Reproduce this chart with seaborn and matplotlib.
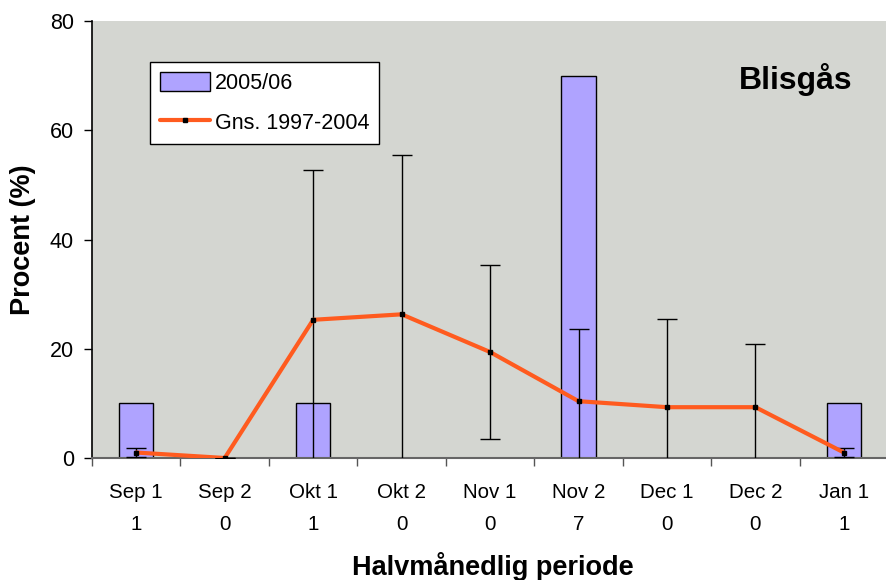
import matplotlib
matplotlib.use("Agg")
import matplotlib.pyplot as plt
import seaborn as sns
import pandas as pd
import numpy as np
from matplotlib.lines import Line2D
from matplotlib.patches import Patch

periods = ["Sep 1", "Sep 2", "Okt 1", "Okt 2", "Nov 1", "Nov 2", "Dec 1", "Dec 2", "Jan 1"]
counts = [1, 0, 1, 0, 0, 7, 0, 0, 1]
pct_2005 = [10, 0, 10, 0, 0, 70, 0, 0, 10]
mean_9704 = [1.0, 0.0, 25.3, 26.3, 19.4, 10.4, 9.3, 9.3, 1.0]
sd_9704 = [0.9, 0.0, 27.4, 29.2, 15.9, 13.2, 16.2, 11.6, 0.9]

sns.set_theme(style="white")
plt.rcParams['font.family'] = ['Liberation Sans', 'DejaVu Sans']
plt.rcParams.update({'text.color': 'black', 'axes.labelcolor': 'black',
                     'xtick.color': 'black', 'ytick.color': 'black'})

df = pd.DataFrame({"periode": periods, "pct": pct_2005, "mean": mean_9704,
                   "sd": sd_9704, "pos": np.arange(len(periods))})

fig = plt.figure(figsize=(8.87, 5.80), dpi=100)
ax = fig.add_axes([92/887, 122/580, 805/887, 437/580])
ax.set_facecolor('#D4D6D1')

bar_color = '#AFA3FF'
line_color = '#FF5B1F'

sns.barplot(data=df, x="periode", y="pct", color=bar_color, width=0.39,
            edgecolor='black', linewidth=1.0, saturation=1, ax=ax, zorder=2)

ax.errorbar(df["pos"], df["mean"], yerr=df["sd"], fmt='none', ecolor='black',
            elinewidth=1.0, capsize=7, capthick=1.0, zorder=3)

sns.lineplot(data=df, x="pos", y="mean", color=line_color, linewidth=3.0,
             sort=False, ax=ax, zorder=4)
ax.plot(df["pos"], df["mean"], linestyle='none', marker='s', markersize=3.5,
        color='black', zorder=5)

ax.set_xlim(-0.5, 8.6)
ax.set_ylim(0, 80)
ax.set_yticks([0, 20, 40, 60, 80])
ax.tick_params(axis='y', labelsize=15.5, length=6, width=1, color='black', pad=7,
               left=True, direction='out', labelcolor='black')

# x: major ticks at category boundaries, labels at minor positions
ax.set_xticks(np.arange(-0.5, 9.0, 1.0))
ax.set_xticklabels([])
ax.set_xticks(df["pos"], minor=True)
ax.set_xticklabels([f"{p}\n{c}" for p, c in zip(periods, counts)], minor=True)
ax.tick_params(axis='x', which='major', length=6, width=1, color='#555555',
               bottom=True, direction='out')
ax.tick_params(axis='x', which='minor', length=0, labelsize=14.8, pad=18,
               labelcolor='black')
for lab in ax.get_xticklabels(minor=True):
    lab.set_linespacing(1.85)

for s in ['top', 'right']:
    ax.spines[s].set_visible(False)
ax.spines['left'].set_color('black')
ax.spines['left'].set_linewidth(1.2)
ax.spines['bottom'].set_color('#666666')
ax.spines['bottom'].set_linewidth(1.5)

ax.set_xlabel("Halvmånedlig periode", fontsize=19.5, fontweight='bold')
ax.set_ylabel("Procent (%)", fontsize=19.5, fontweight='bold')
ax.xaxis.set_label_coords((493 - 92) / 805, -(552 - 458) / 437)
ax.yaxis.set_label_coords(-(92 - 36) / 805, 0.5)

fig.text(796 / 887, 1 - 79 / 580, "Blisgås", fontsize=23, fontweight='bold',
         ha='center', va='center')

handles = [Patch(facecolor=bar_color, edgecolor='black', linewidth=1.0, label="2005/06"),
           Line2D([0], [0], color=line_color, linewidth=3.0, marker='s', markersize=3,
                  markerfacecolor='black', markeredgecolor='black', label="Gns. 1997-2004")]
leg = ax.legend(handles=handles, loc='upper left',
                bbox_to_anchor=((150 - 92) / 805, 1 - (62 - 21) / 437),
                fontsize=15.5, frameon=True, fancybox=False, shadow=False,
                edgecolor='black', facecolor='white', framealpha=1,
                handlelength=2.35, handleheight=1.0, labelspacing=0.85,
                borderpad=0.45, handletextpad=0.2, borderaxespad=0)
leg.get_frame().set_linewidth(1.0)

fig.savefig("out.png", dpi=100)
